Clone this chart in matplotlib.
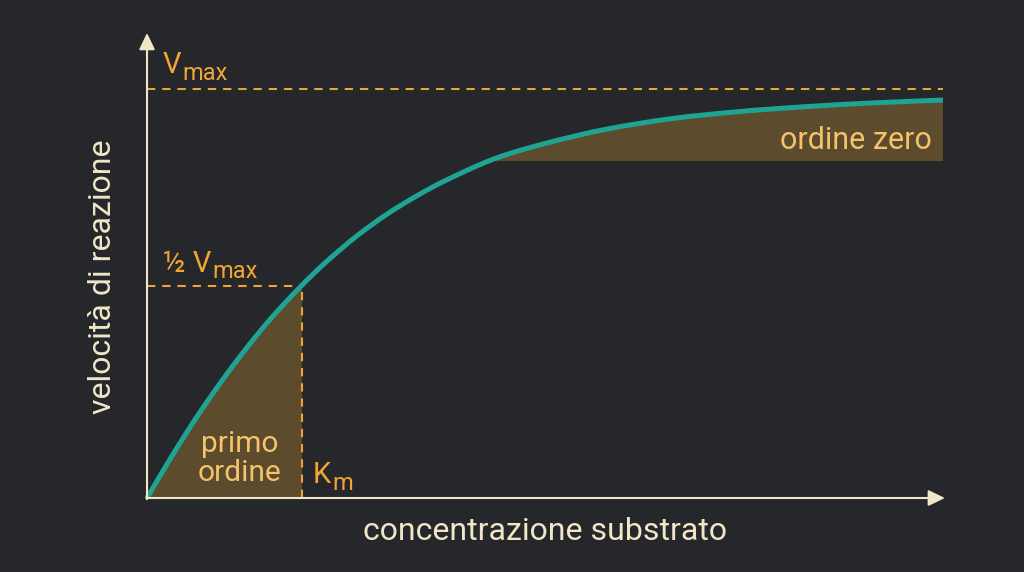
import matplotlib
matplotlib.use('Agg')
import matplotlib.pyplot as plt
from matplotlib.path import Path
from matplotlib.patches import PathPatch, Rectangle
import numpy as np

# ---- data (concentration in arbitrary units, velocity as fraction of Vmax)
conc = [0, 0.314, 0.628, 0.942, 1.256, 1.570, 1.935, 2.261, 2.638, 3.015, 3.392,
        3.769, 4.372, 5.025, 5.779, 6.608, 7.450, 8.291, 9.121, 10.0]
vel = [0, 0.103, 0.199, 0.287, 0.368, 0.442, 0.518, 0.579, 0.641, 0.694, 0.739,
       0.778, 0.830, 0.868, 0.902, 0.928, 0.945, 0.957, 0.966, 0.973]
vmax = 1.0
half_vmax = 0.519
km = 1.943
zero_order_floor = 0.824
x_end = 10.0

labels = {
    'vmax': 'V', 'sub': 'max', 'half': '½ V', 'km': 'K', 'km_sub': 'm',
    'first': ['primo', 'ordine'], 'zero': 'ordine zero',
    'xlabel': 'concentrazione substrato', 'ylabel': 'velocità di reazione',
}

BG = '#25272b'
CREAM = '#f1e7c8'
ORANGE = '#eba43a'
LABEL_OR = '#f0a534'
SOFT_OR = '#f5c36c'
TEAL = '#1fa494'
FILL = '#5d4b2d'

plt.rcParams['font.family'] = ['Roboto', 'DejaVu Sans']

fig = plt.figure(figsize=(10.24, 5.72), dpi=100, facecolor=BG)
ax = fig.add_axes([0, 0, 1, 1])
ax.set_facecolor(BG)
ax.set_xlim(-1.847, 11.018)
ax.set_ylim(-0.1809, 1.2176)
ax.axis('off')

pts = np.column_stack([conc, vel])


def smooth_path(p):
    """Bezier (Catmull-Rom) path through the read points; matplotlib renders the curves."""
    verts = [p[0]]
    codes = [Path.MOVETO]
    n = len(p)
    for i in range(n - 1):
        p0 = p[i - 1] if i > 0 else p[i]
        p1, p2 = p[i], p[i + 1]
        p3 = p[i + 2] if i + 2 < n else p[i + 1]
        verts += [p1 + (p2 - p0) / 6.0, p2 - (p3 - p1) / 6.0, p2]
        codes += [Path.CURVE4] * 3
    return verts, codes


cv, cc = smooth_path(pts)
curve_path = Path(cv, cc)

# area under the curve, used as a clip region for the shaded zones
under_verts = cv + [(conc[-1], 0.0), (conc[0], 0.0), (conc[0], 0.0)]
under_codes = cc + [Path.LINETO, Path.LINETO, Path.CLOSEPOLY]
under = PathPatch(Path(under_verts, under_codes), transform=ax.transData)

r1 = Rectangle((0, 0), km, half_vmax + 0.05, color=FILL, lw=0, zorder=1)
ax.add_patch(r1)
r1.set_clip_path(under)
r2 = Rectangle((2.5, zero_order_floor), x_end - 2.5, 0.2, color=FILL, lw=0, zorder=1)
ax.add_patch(r2)
r2.set_clip_path(under)

# dashed guides
dash = (0, (4, 3.3))
ax.plot([0, x_end], [vmax, vmax], color=ORANGE, lw=1.5, ls=dash, zorder=2)
ax.plot([0, km], [half_vmax, half_vmax], color=ORANGE, lw=1.5, ls=dash, zorder=2)
ax.plot([km, km], [0, half_vmax], color=ORANGE, lw=1.5, ls=dash, zorder=2)

# curve
ax.add_patch(PathPatch(curve_path, facecolor='none', edgecolor=TEAL, lw=3.6,
                       capstyle='butt', joinstyle='round', zorder=4))

# axes arrows
ap = dict(arrowstyle='-|>,head_length=0.5,head_width=0.24', mutation_scale=20,
          color=CREAM, lw=1.5, shrinkA=0, shrinkB=0)
ax.annotate('', xy=(10.025, 0), xytext=(-0.01, 0), arrowprops=ap, zorder=5)
ax.annotate('', xy=(0, 1.137), xytext=(0, -0.003), arrowprops=ap, zorder=5)

fig.canvas.draw()
r = fig.canvas.get_renderer()
inv = ax.transData.inverted()


def with_sub(xm, yb, main, sub, color, size_main, size_sub, drop_px):
    t = ax.text(xm, yb, main, color=color, fontsize=size_main, ha='left', va='baseline', zorder=6)
    bb = t.get_window_extent(renderer=r)
    x1, _ = inv.transform((bb.x1 + 1, 0))
    _, ysub = inv.transform((0, ax.transData.transform((0, yb))[1] - drop_px))
    ax.text(x1, ysub, sub, color=color, fontsize=size_sub, ha='left', va='baseline', zorder=6)


with_sub(0.201, 1.039, labels['vmax'], labels['sub'], LABEL_OR, 21, 17, 7)
with_sub(0.201, 0.5526, labels['half'], labels['sub'], LABEL_OR, 21, 17, 6)
with_sub(2.085, 0.0367, labels['km'], labels['km_sub'], LABEL_OR, 21, 17, 7)

ax.text(1.168, 0.1125, labels['first'][0], color=SOFT_OR, fontsize=21.5, ha='center', va='baseline', zorder=6)
ax.text(1.168, 0.0416, labels['first'][1], color=SOFT_OR, fontsize=21.5, ha='center', va='baseline', zorder=6)
ax.text(9.862, 0.853, labels['zero'], color=SOFT_OR, fontsize=22, ha='right', va='baseline', zorder=6)

ax.text(4.997, -0.1027, labels['xlabel'], color=CREAM, fontsize=23, ha='center', va='baseline')
ax.text(-0.56, 0.54, labels['ylabel'], color=CREAM, fontsize=23, ha='center', va='center', rotation=90)

fig.savefig('out.png', dpi=100, facecolor=BG)
